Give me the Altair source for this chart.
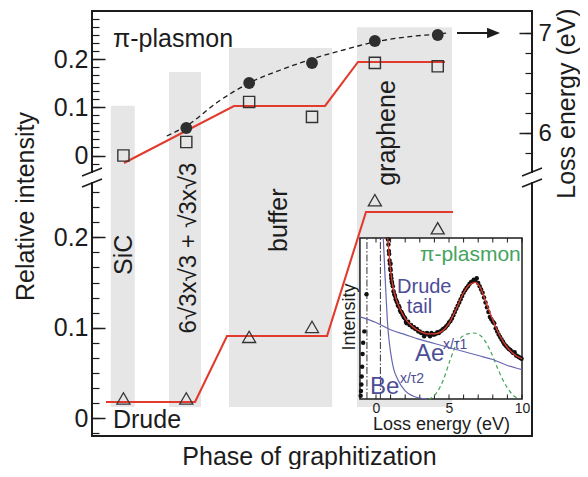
import altair as alt
import pandas as pd

FONT = "Liberation Sans"
INK = "#1c1c1c"
RED = "#e23b2e"
GREY = "#e6e6e6"
NAVY = "#4d4d96"
BLUE = "#6868b0"
GREEN = "#46a35e"

# ---------------- chart values ----------------
# phases of graphitization (x = sample index)
PHASES = ["SiC", "buffer", "graphene"]
PHASE_LABEL_X = [1.136, 3.602, 5.320]
PHASE_LABEL_Y = [-0.206, -0.134, 0.0466]
RECON_LABEL = ["6√3x√3 + √3x√3"]
RECON_LABEL_X = [2.155]
RECON_LABEL_Y = [-0.1917]

PHASE_X0 = [0.80, 1.725, 2.68, 4.716]
PHASE_X1 = [1.18, 2.234, 4.32, 6.227]
PHASE_TOP = [0.103, 0.173, 0.223, 0.266]          # in upper relative-intensity units
PHASE_BOTTOM = [-0.521, -0.521, -0.521, -0.521]

SAMPLE_X = [1, 2, 3, 4, 5, 6]
# pi-plasmon relative intensity (squares) and step guide (red)
PI_INTENSITY = [0.0, 0.028, 0.111, 0.080, 0.192, 0.185]
PI_STEP_X = [1.009, 2.759, 4.207, 4.732, 6.116]
PI_STEP = [-0.0155, 0.1026, 0.1026, 0.1938, 0.1938]
# pi-plasmon loss energy (filled circles, right axis) and dashed guide
PI_ENERGY_X = [2, 3, 4, 5, 6]
PI_ENERGY = [6.05, 6.50, 6.70, 6.92, 6.98]
GUIDE_X = [1.69, 2.0, 2.5, 3.0, 3.5, 4.0, 4.5, 5.0, 5.5, 6.0, 6.15]
GUIDE_E = [5.97, 6.07, 6.31, 6.50, 6.63, 6.74, 6.83, 6.91, 6.96, 6.99, 7.0]
ARROW_X = [6.307, 6.832]
ARROW_E = [7.0, 7.0]
ARROW_HEAD_X = [6.888]

# Drude relative intensity (triangles) and step guide (red)
DRUDE_INTENSITY = [0.022, 0.022, 0.090, 0.101, 0.241, 0.210]
DRUDE_STEP_X = [0.723, 2.139, 2.648, 4.239, 4.859, 6.243]
DRUDE_STEP = [0.018, 0.018, 0.091, 0.091, 0.228, 0.228]

# axis ticks
U_MAJOR = [0, 0.1, 0.2]
U_MINOR = [round(k / 60, 6) for k in range(-1, 18)]
L_MAJOR = [0, 0.1, 0.2]
L_MINOR = [round(k / 60, 6) for k in range(-1, 16)]
E_MAJOR = [6, 7]
E_MINOR = [5.8, 6.0, 6.2, 6.4, 6.6, 6.8, 7.0]

# inset: loss spectrum
INSET_E_RANGE = [-1.1, 10.0]
INSET_I_RANGE = [0, 100]
INSET_TICKS = [0, 1, 2, 3, 4, 5, 6, 7, 8, 9, 10]
INSET_LABELS = [0, 5, 10]
ELASTIC_LINES = [-0.62, 0.30]
DOT_E = [-1.05, -1.03, -1.0, -0.98, -0.95, -0.92, -0.88, -0.8, -0.65,
         0.82, 0.85, 0.88, 0.9, 0.93, 0.95, 0.98, 1.0, 1.0, 1.03, 1.05, 1.08, 1.1,
         1.15, 1.2, 1.25, 1.3, 1.35, 1.4, 1.45, 1.5, 1.55, 1.6, 1.65, 1.7, 1.75, 1.8,
         1.85, 1.9, 1.95, 2.0, 2.05, 2.1, 2.2, 2.3, 2.4, 2.5, 2.6, 2.7, 2.8, 2.9,
         3.0, 3.1, 3.2, 3.3, 3.4, 3.5, 3.6, 3.7, 3.8, 3.9, 4.0, 4.1, 4.2, 4.3,
         4.4, 4.5, 4.6, 4.7, 4.8, 4.9, 5.0, 5.1, 5.2, 5.3, 5.4, 5.5, 5.6, 5.7,
         5.8, 5.9, 6.0, 6.1, 6.2, 6.3, 6.4, 6.5, 6.6, 6.7, 6.8, 6.9, 7.0, 7.1,
         7.2, 7.3, 7.4, 7.5, 7.6, 7.7, 7.8, 7.9, 8.0, 8.1, 8.2, 8.3, 8.4, 8.5,
         8.6, 8.7, 8.8, 8.9, 9.0, 9.1, 9.2, 9.3, 9.4, 9.5, 9.6, 9.7, 9.8, 9.9, 9.97]
DOT_I = [2, 5, 9, 14, 20, 28, 35, 42, 65,
         99, 96, 92, 90, 86, 84, 81, 80, 84, 77, 75, 73, 72,
         70, 67, 65, 64, 62, 61, 60, 58, 58, 57, 55, 54, 54, 53,
         52, 51, 50.5, 50, 48, 47, 48, 46, 46, 44.5, 44.5, 43.5, 43.5, 42,
         42, 41, 41, 39, 40.5, 41, 40, 39, 41, 40, 40, 40.5, 41.5, 41,
         42, 42.5, 43.5, 44, 45, 46, 47.5, 48.5, 50, 52, 54, 56, 58, 60,
         62, 64, 66, 67.5, 69, 70, 71.5, 72.5, 73, 74, 73.5, 75, 72, 70,
         68, 66, 63, 60, 57, 54, 51, 49.5, 48, 47, 44, 42, 40, 38.5,
         37, 35.5, 34, 33, 32, 31, 30.5, 29.5, 28.5, 29, 27, 26.5, 26, 25.5, 25]
FIT_E = [0.8, 0.9, 1.0, 1.1, 1.25, 1.5, 1.75, 2.0, 2.5, 3.0, 3.5, 4.0, 4.5, 5.0,
         5.5, 6.0, 6.4, 6.8, 7.1, 7.5, 8.0, 8.5, 9.0, 9.5, 10.0]
FIT_I = [100, 90, 80, 73, 66, 59, 54, 50, 45, 42, 40.5, 40.5, 42, 47,
         56, 66, 71, 72.5, 70, 61, 49, 39, 32, 27.5, 25]
TAU1_E = [-1.1, 0, 1, 2, 3, 4, 5, 6, 7, 8, 9, 10]
TAU1_I = [51, 47.5, 43, 40, 37, 34.5, 32, 29.5, 27, 24.5, 20.8, 18.2]
TAU2_E = [0.5, 0.6, 0.7, 0.8, 0.9, 1.0, 1.2, 1.5, 2.0, 2.5, 3.0, 3.5]
TAU2_I = [100, 80, 62, 46, 36, 29, 19, 12, 5, 2, 0.6, 0]
PLASMON_E = [3.6, 3.92, 4.61, 5.07, 5.53, 6.1, 6.71, 7.24, 7.81, 8.38, 8.95, 9.52, 9.8]
PLASMON_I = [0, 1.4, 11.8, 24, 34.6, 39.8, 41, 38.7, 30.4, 18, 7.6, 1.4, 0]

# ---------------- layout ----------------
W, H = 440, 425


def ydom(ref, ref_px, ppu):
    return [ref - (H - ref_px) / ppu, ref + ref_px / ppu]


def xdom(ref, ref_px, ppu):
    return [ref - ref_px / ppu, ref + (W - ref_px) / ppu]


X_DOM = [0.5, 7.5]
U_DOM = ydom(0, 144.5, 482.5)     # upper panel relative intensity
L_DOM = ydom(0, 407.3, 905)       # lower panel relative intensity
E_DOM = ydom(7, 22, 100)          # loss energy (right)
IX_DOM = xdom(0, 284, 14.6)       # inset loss energy
IY_DOM = ydom(0, 388, 1.61)       # inset intensity


def sc(d):
    return alt.Scale(domain=d, nice=False, zero=False)


def qx(f, d, axis=None):
    return alt.X(f"{f}:Q", scale=sc(d), axis=axis)


def qy(f, d, axis=None):
    return alt.Y(f"{f}:Q", scale=sc(d), axis=axis)


layers = []

# gray phase bands (+ main x axis title)
bars_df = pd.DataFrame({"x0": PHASE_X0, "x1": PHASE_X1, "y0": PHASE_BOTTOM, "y1": PHASE_TOP})
layers.append(
    alt.Chart(bars_df).mark_rect(color=GREY).encode(
        x=qx("x0", X_DOM, alt.Axis(title="Phase of graphitization", labels=False, ticks=False,
                                   domain=False, grid=False, titleFontSize=25, titleX=217,
                                   titleY=28, titleAlign="center", titleBaseline="alphabetic")),
        x2="x1:Q",
        y=qy("y0", U_DOM),
        y2="y1:Q",
    )
)


def axis_layer(vals, d, axis):
    return alt.Chart(pd.DataFrame({"v": vals})).mark_point(opacity=0).encode(y=qy("v", d, axis))


lab_kw = dict(ticks=False, domain=False, grid=False, labelOverlap=False, labelFlush=False,
              format="~g", labelColor=INK)
tick_kw = dict(labels=False, domain=False, grid=False, title=None, tickColor=INK)

# upper left axis
layers.append(axis_layer(U_MAJOR, U_DOM, alt.Axis(
    orient="left", values=U_MAJOR, labelPadding=4, labelFontSize=25,
    title="Relative intensity", titleFontSize=25, titleAngle=270, titleX=-59, titleY=195,
    titleAlign="center", titleBaseline="alphabetic", **lab_kw)))
layers.append(axis_layer(U_MAJOR, U_DOM, alt.Axis(orient="right", offset=-W, values=U_MAJOR,
                                                  tickSize=13, tickWidth=1.5, **tick_kw)))
layers.append(axis_layer(U_MINOR, U_DOM, alt.Axis(orient="right", offset=-W, values=U_MINOR,
                                                  tickSize=7, tickWidth=1.2, **tick_kw)))
# lower left axis
layers.append(axis_layer(L_MAJOR, L_DOM, alt.Axis(
    orient="left", values=L_MAJOR, labelPadding=4, labelFontSize=25, title=None, **lab_kw)))
layers.append(axis_layer(L_MAJOR, L_DOM, alt.Axis(orient="right", offset=-W, values=L_MAJOR,
                                                  tickSize=13, tickWidth=1.5, **tick_kw)))
layers.append(axis_layer(L_MINOR, L_DOM, alt.Axis(orient="right", offset=-W, values=L_MINOR,
                                                  tickSize=7, tickWidth=1.2, **tick_kw)))
# right axis (loss energy)
layers.append(axis_layer(E_MAJOR, E_DOM, alt.Axis(
    orient="right", values=E_MAJOR, labelPadding=6, labelFontSize=24,
    title="Loss energy (eV)", titleFontSize=25, titleAngle=270, titleX=42, titleY=92,
    titleAlign="center", titleBaseline="alphabetic", **lab_kw)))
layers.append(axis_layer(E_MAJOR, E_DOM, alt.Axis(orient="left", offset=-W, values=E_MAJOR,
                                                  tickSize=13, tickWidth=1.5, **tick_kw)))
layers.append(axis_layer(E_MINOR, E_DOM, alt.Axis(orient="left", offset=-W, values=E_MINOR,
                                                  tickSize=7, tickWidth=1.2, **tick_kw)))

# upper panel: pi-plasmon
pi_df = pd.DataFrame({"x": SAMPLE_X, "y": PI_INTENSITY})
pi_step_df = pd.DataFrame({"x": PI_STEP_X, "y": PI_STEP})
layers.append(alt.Chart(pi_step_df).mark_line(color=RED, strokeWidth=2.1).encode(
    x=qx("x", X_DOM), y=qy("y", U_DOM)))
guide_df = pd.DataFrame({"x": GUIDE_X, "y": GUIDE_E})
layers.append(alt.Chart(guide_df).mark_line(color=INK, strokeWidth=1.3, strokeDash=[5, 3.5],
                                            interpolate="monotone").encode(
    x=qx("x", X_DOM), y=qy("y", E_DOM)))
layers.append(alt.Chart(pi_df).mark_point(shape="square", size=125, filled=False, color="#333333",
                                          strokeWidth=1.4, opacity=1).encode(
    x=qx("x", X_DOM), y=qy("y", U_DOM)))
energy_df = pd.DataFrame({"x": PI_ENERGY_X, "y": PI_ENERGY})
layers.append(alt.Chart(energy_df).mark_point(shape="circle", size=140, filled=True,
                                              color="#2e2e2e", opacity=1).encode(
    x=qx("x", X_DOM), y=qy("y", E_DOM)))
arrow_df = pd.DataFrame({"x": ARROW_X, "y": ARROW_E})
layers.append(alt.Chart(arrow_df).mark_line(color=INK, strokeWidth=2).encode(
    x=qx("x", X_DOM), y=qy("y", E_DOM)))
head_df = pd.DataFrame({"x": ARROW_HEAD_X, "y": [7.0]})
layers.append(alt.Chart(head_df).mark_point(shape="M-1,-0.8L1,0L-1,0.8Z", size=169, filled=True,
                                            color=INK, opacity=1).encode(
    x=qx("x", X_DOM), y=qy("y", E_DOM)))

# lower panel: Drude
dr_step_df = pd.DataFrame({"x": DRUDE_STEP_X, "y": DRUDE_STEP})
layers.append(alt.Chart(dr_step_df).mark_line(color=RED, strokeWidth=2.1).encode(
    x=qx("x", X_DOM), y=qy("y", L_DOM)))
dr_df = pd.DataFrame({"x": SAMPLE_X, "y": DRUDE_INTENSITY})
layers.append(alt.Chart(dr_df).mark_point(shape="triangle-up", size=170, filled=False,
                                          color="#333333", strokeWidth=1.3, opacity=1).encode(
    x=qx("x", X_DOM), y=qy("y", L_DOM)))

# texts in main plot
phase_txt = pd.DataFrame({"label": PHASES, "x": PHASE_LABEL_X, "y": PHASE_LABEL_Y})
layers.append(alt.Chart(phase_txt).mark_text(angle=270, align="center", baseline="alphabetic",
                                             font=FONT, fontSize=25, color=INK).encode(
    x=qx("x", X_DOM), y=qy("y", U_DOM), text="label:N"))
recon_txt = pd.DataFrame({"label": RECON_LABEL, "x": RECON_LABEL_X, "y": RECON_LABEL_Y})
layers.append(alt.Chart(recon_txt).mark_text(angle=270, align="center", baseline="alphabetic",
                                             font=FONT, fontSize=24, color=INK).encode(
    x=qx("x", X_DOM), y=qy("y", U_DOM), text="label:N"))
layers.append(alt.Chart(pd.DataFrame({"label": ["π-plasmon"], "x": [0.834], "y": [0.2255]}))
              .mark_text(align="left", baseline="alphabetic", font=FONT, fontSize=25, color=INK)
              .encode(x=qx("x", X_DOM), y=qy("y", U_DOM), text="label:N"))
layers.append(alt.Chart(pd.DataFrame({"label": ["Drude"], "x": [0.834], "y": [-0.011]}))
              .mark_text(align="left", baseline="alphabetic", font=FONT, fontSize=25, color=INK)
              .encode(x=qx("x", X_DOM), y=qy("y", L_DOM), text="label:N"))

# ---------------- inset ----------------
frame_df = pd.DataFrame({"x": [INSET_E_RANGE[0]], "x2": [INSET_E_RANGE[1]],
                         "y": [INSET_I_RANGE[0]], "y2": [INSET_I_RANGE[1]]})
layers.append(alt.Chart(frame_df).mark_rect(fill="white", stroke=INK, strokeWidth=1.5).encode(
    x=qx("x", IX_DOM), x2="x2:Q", y=qy("y", IY_DOM), y2="y2:Q"))
ticks_df = pd.DataFrame({"x": INSET_TICKS * 2,
                         "y": [100] * len(INSET_TICKS) + [0] * len(INSET_TICKS),
                         "y2": [97.2] * len(INSET_TICKS) + [2.8] * len(INSET_TICKS)})
layers.append(alt.Chart(ticks_df).mark_rule(color=INK, strokeWidth=1).encode(
    x=qx("x", IX_DOM), y=qy("y", IY_DOM), y2="y2:Q"))
el_df = pd.DataFrame({"x": ELASTIC_LINES, "y": [0, 0], "y2": [100, 100]})
layers.append(alt.Chart(el_df).mark_rule(color="#333333", strokeWidth=1,
                                         strokeDash=[7, 2, 1.5, 2]).encode(
    x=qx("x", IX_DOM), y=qy("y", IY_DOM), y2="y2:Q"))
layers.append(alt.Chart(pd.DataFrame({"x": PLASMON_E, "y": PLASMON_I}))
              .mark_line(color=GREEN, strokeWidth=1.2, strokeDash=[4, 3], interpolate="monotone")
              .encode(x=qx("x", IX_DOM), y=qy("y", IY_DOM)))
layers.append(alt.Chart(pd.DataFrame({"x": TAU1_E, "y": TAU1_I}))
              .mark_line(color=BLUE, strokeWidth=1.2, interpolate="monotone")
              .encode(x=qx("x", IX_DOM), y=qy("y", IY_DOM)))
layers.append(alt.Chart(pd.DataFrame({"x": TAU2_E, "y": TAU2_I}))
              .mark_line(color=BLUE, strokeWidth=1.2, interpolate="monotone")
              .encode(x=qx("x", IX_DOM), y=qy("y", IY_DOM)))
layers.append(alt.Chart(pd.DataFrame({"x": DOT_E, "y": DOT_I}))
              .mark_point(shape="circle", size=20, filled=True, color="#111111", opacity=1)
              .encode(x=qx("x", IX_DOM), y=qy("y", IY_DOM)))
layers.append(alt.Chart(pd.DataFrame({"x": FIT_E, "y": FIT_I}))
              .mark_line(color=RED, strokeWidth=1.3, interpolate="monotone")
              .encode(x=qx("x", IX_DOM), y=qy("y", IY_DOM)))


def inset_text(labels, xs, ys, size, color, **kw):
    df = pd.DataFrame({"label": labels, "x": xs, "y": ys})
    return alt.Chart(df).mark_text(font=FONT, fontSize=size, color=color, **kw).encode(
        x=qx("x", IX_DOM), y=qy("y", IY_DOM), text="label:N")


layers.append(inset_text(["π-plasmon"], [3.01], [85.7], 21, GREEN, align="left", baseline="alphabetic"))
layers.append(inset_text(["Drude", "tail"], [1.44, 2.1], [65.8, 53.2], 20, NAVY, align="left",
                         baseline="alphabetic"))
layers.append(inset_text(["Ae", "Be"], [2.67, -0.41], [23.8, 3.0], 24, NAVY, align="left",
                         baseline="alphabetic"))
layers.append(inset_text(["x/τ1", "x/τ2"], [4.59, 1.64], [31, 9.7], 14, NAVY, align="left",
                         baseline="alphabetic"))
layers.append(inset_text(["Intensity"], [-1.44], [50.9], 18, INK, align="center",
                         baseline="alphabetic", angle=270))
layers.append(alt.Chart(pd.DataFrame({"v": INSET_LABELS})).mark_point(opacity=0).encode(
    x=qx("v", IX_DOM, alt.Axis(orient="bottom", offset=-37, values=INSET_LABELS, ticks=False,
                               domain=False, grid=False, labelFontSize=14, labelPadding=2,
                               labelFlush=False, labelOverlap=False, labelColor=INK, zindex=2,
                               title="Loss energy (eV)", titleFontSize=18, titleX=349,
                               titleY=30.5, titleAlign="center", titleBaseline="alphabetic"))))

# ---------------- frame with axis breaks ----------------
x0, x1 = X_DOM
yb, yt = U_DOM
BREAK_HI, BREAK_LO = -0.0342, -0.0570
frame_segments = pd.DataFrame({
    "x": [x0, x0, x0, x0, x1, x1],
    "x2": [x1, x1, x0, x0, x1, x1],
    "y": [yt, yb, yt, BREAK_LO, yt, BREAK_LO],
    "y2": [yt, yb, BREAK_HI, yb, BREAK_HI, yb],
})
layers.append(alt.Chart(frame_segments).mark_rule(color=INK, strokeWidth=2, strokeCap="square").encode(
    x=qx("x", X_DOM), x2="x2:Q", y=qy("y", U_DOM), y2="y2:Q"))
dx, du = 10 / 62.857, 4 / 482.5
slashes = pd.DataFrame({
    "x": [x0 - dx, x0 - dx, x1 - dx, x1 - dx],
    "x2": [x0 + dx, x0 + dx, x1 + dx, x1 + dx],
    "y": [BREAK_HI - du, BREAK_LO - du, BREAK_HI - du, BREAK_LO - du],
    "y2": [BREAK_HI + du, BREAK_LO + du, BREAK_HI + du, BREAK_LO + du],
})
layers.append(alt.Chart(slashes).mark_rule(color=INK, strokeWidth=1.6).encode(
    x=qx("x", X_DOM), x2="x2:Q", y=qy("y", U_DOM), y2="y2:Q"))

chart = (
    alt.layer(*layers)
    .resolve_scale(x="independent", y="independent")
    .properties(width=W, height=H, autosize="none",
                padding={"left": 84, "top": 3, "right": 48, "bottom": 33})
    .configure_view(stroke=None)
    .configure_axis(labelFont=FONT, titleFont=FONT, titleFontWeight="normal", titleColor=INK)
)

chart.save("out.html", embed_options={"renderer": "svg", "actions": False})
